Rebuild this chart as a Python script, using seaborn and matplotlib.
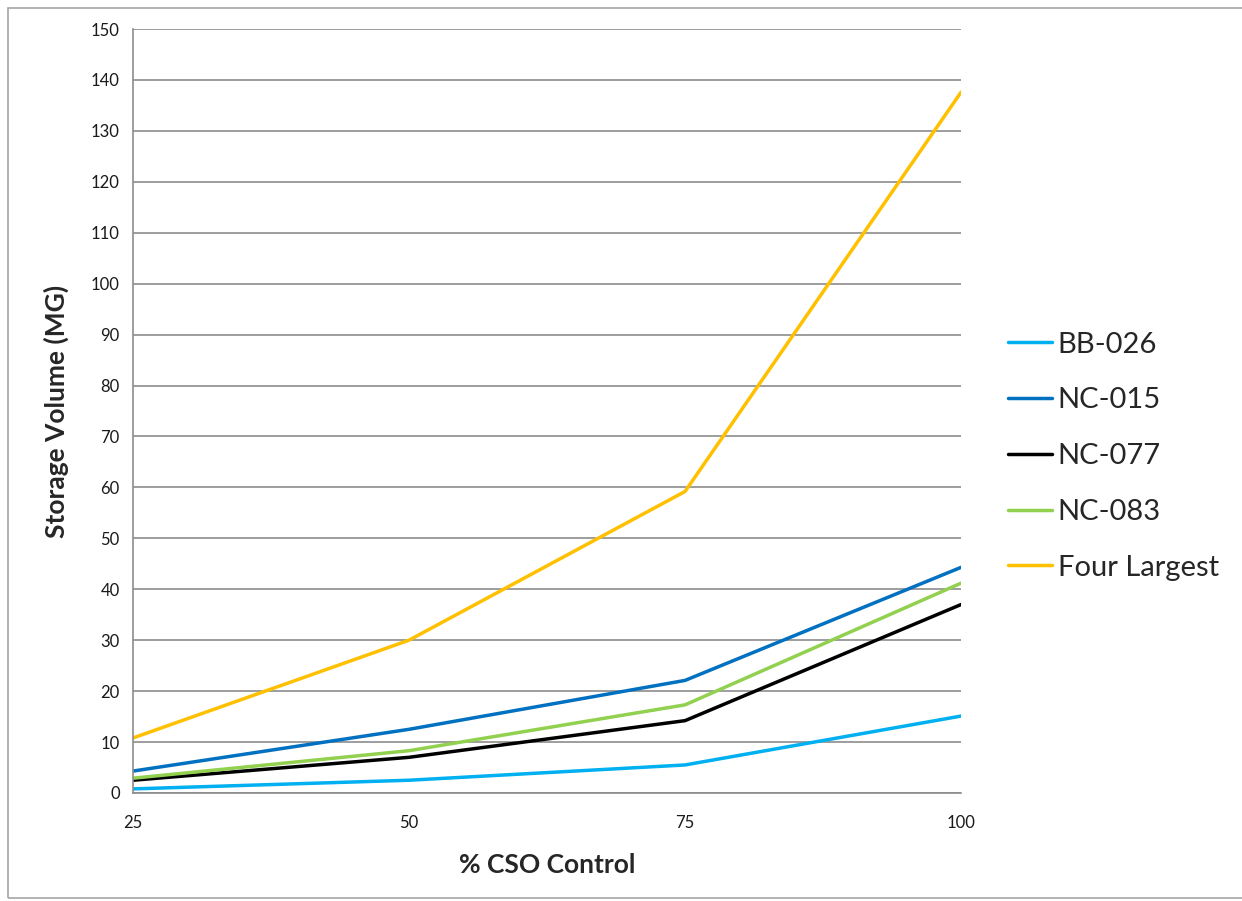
import matplotlib
matplotlib.use("Agg")
import matplotlib.pyplot as plt
import numpy as np
import pandas as pd
import seaborn as sns
from matplotlib.patches import Rectangle

# data
cso_control = [25, 50, 75, 100]
bb_026 = [0.8, 2.5, 5.5, 15.1]
nc_015 = [4.3, 12.5, 22.1, 44.3]
nc_077 = [2.5, 7.0, 14.2, 37.0]
nc_083 = [2.9, 8.3, 17.3, 41.2]
four_largest = [10.8, 30.0, 59.2, 137.6]

series_names = ["BB-026", "NC-015", "NC-077", "NC-083", "Four Largest"]
series_values = [bb_026, nc_015, nc_077, nc_083, four_largest]
colors = ["#00B0F0", "#0070C0", "#000000", "#92D050", "#FFC000"]

rows = []
for name, vals in zip(series_names, series_values):
    for x, v in zip(cso_control, vals):
        rows.append({"control": x, "volume": v, "series": name})
df = pd.DataFrame(rows)

sns.set_style("white")
plt.rcParams["font.family"] = ["Lato", "DejaVu Sans"]

fig = plt.figure(figsize=(12.42, 9.01), dpi=100)
ax = fig.add_axes([0.1071, 0.1199, 0.6667, 0.8479])

# outer chart border
fig.patches.append(Rectangle((0.0065, 0.003), 1.2, 0.988, transform=fig.transFigure,
                             fill=False, edgecolor="#a6a6a6", linewidth=1.2))

sns.lineplot(data=df, x="control", y="volume", hue="series", hue_order=series_names,
             palette=colors, linewidth=2.5, ax=ax, legend=True)

ax.set_xlim(25, 100)
ax.set_ylim(0, 150)
ax.set_xticks(cso_control)
ax.set_yticks(np.arange(0, 151, 10))
ax.yaxis.grid(True, color="#8c8c8c", linewidth=1.2)
ax.set_axisbelow(True)

for side in ["top", "right"]:
    ax.spines[side].set_visible(False)
for side in ["left", "bottom"]:
    ax.spines[side].set_color("#8c8c8c")
    ax.spines[side].set_linewidth(1.2)

ax.tick_params(axis="both", which="both", length=6, width=1.2, color="#8c8c8c",
               direction="out", labelsize=12, labelcolor="#1a1a1a")
ax.tick_params(axis="x", pad=10)

ax.set_xlabel("% CSO Control", fontsize=19, fontweight="bold", labelpad=16)
ax.set_ylabel("Storage Volume (MG)", fontsize=19, fontweight="bold", labelpad=16)

handles, labels = ax.get_legend_handles_labels()
ax.legend(handles, labels, loc="center left", bbox_to_anchor=(1.025, 0.441),
          frameon=False, fontsize=21, handlelength=1.5, handletextpad=0.2,
          labelspacing=1.02)

fig.savefig("out.png", dpi=100)
